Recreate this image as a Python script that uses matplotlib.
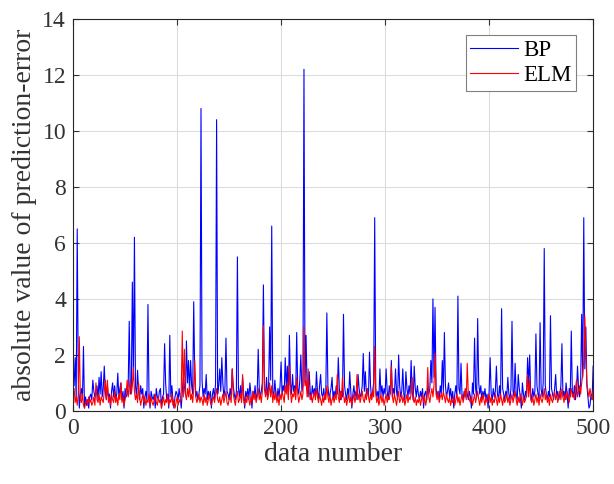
import numpy as np
import matplotlib
matplotlib.use("Agg")
import matplotlib.pyplot as plt

plt.rcParams['font.family'] = ['Liberation Serif', 'DejaVu Serif']

# absolute prediction error of the BP network, samples 1..500
bp_error = [
    0.9, 1.9, 0.4, 6.5, 1.2, 0.1, 0.6, 0.8, 0.4, 2.3, 0.1, 0.5, 0.2, 0.4, 0.1, 0.5, 0.6, 0.4, 1.1, 0.7,
    0.5, 0.6, 0.9, 0.4, 1.2, 0.6, 1.4, 0.5, 0.8, 1.6, 0.7, 0.4, 0.9, 0.5, 0.6, 0.1, 0.7, 1.0, 0.5, 0.9,
    0.4, 0.6, 1.35, 0.5, 0.8, 1.0, 0.4, 0.7, 0.1, 0.8, 0.5, 0.6, 0.9, 3.2, 0.6, 0.8, 4.6, 1.1, 6.2, 0.9,
    0.5, 1.45, 0.7, 0.4, 0.9, 0.6, 0.8, 0.1, 0.5, 0.7, 0.4, 3.8, 0.6, 0.1, 0.7, 0.5, 0.4, 0.6, 0.1, 0.8,
    0.5, 0.4, 0.7, 0.8, 0.1, 0.5, 0.6, 2.4, 1.0, 0.4, 0.6, 0.1, 2.7, 0.5, 0.9, 0.4, 0.1, 0.5, 0.7, 0.6,
    0.4, 0.8, 0.5, 0.1, 0.7, 1.2, 0.9, 0.6, 2.5, 1.0, 1.8, 0.7, 1.8, 0.9, 0.6, 3.9, 1.2, 0.5, 0.7, 0.4,
    0.6, 0.9, 10.8, 1.1, 0.5, 0.8, 0.6, 1.3, 0.4, 0.7, 0.5, 0.7, 0.1, 0.6, 0.8, 0.4, 1.0, 10.4, 0.6, 0.9,
    1.5, 0.7, 1.9, 1.0, 0.5, 0.8, 2.6, 0.7, 0.6, 0.4, 0.8, 0.5, 1.5, 0.9, 0.6, 0.4, 0.7, 5.5, 0.8, 0.5,
    0.9, 0.4, 1.2, 0.6, 0.1, 0.7, 0.5, 0.8, 0.4, 1.0, 0.6, 0.1, 0.7, 0.5, 0.9, 0.4, 0.6, 2.2, 0.8, 0.5,
    0.7, 1.0, 4.5, 0.8, 0.6, 1.2, 0.5, 0.9, 3.0, 1.1, 6.6, 0.7, 0.5, 1.1, 0.6, 0.4, 0.8, 0.5, 0.9, 1.75,
    0.6, 0.9, 0.7, 1.9, 0.8, 1.6, 0.5, 2.7, 1.0, 0.6, 1.3, 0.7, 0.9, 0.5, 2.8, 0.8, 0.6, 1.1, 2.0, 0.7,
    0.9, 12.2, 1.0, 2.7, 0.8, 0.5, 1.4, 0.7, 0.4, 0.9, 0.6, 0.8, 0.5, 1.4, 0.7, 0.4, 0.9, 1.3, 0.6, 0.5,
    0.8, 0.4, 0.7, 3.5, 0.9, 0.5, 0.6, 0.8, 1.2, 0.4, 0.7, 0.5, 0.9, 0.6, 1.9, 0.8, 0.4, 0.7, 0.5, 3.45,
    0.9, 0.6, 0.4, 0.8, 0.5, 1.4, 0.7, 0.1, 0.6, 0.9, 0.5, 0.7, 0.4, 1.3, 0.8, 0.5, 0.6, 0.9, 2.05, 0.7,
    1.4, 0.6, 0.8, 0.5, 2.1, 0.9, 0.4, 0.7, 1.0, 6.9, 0.8, 0.5, 0.7, 0.4, 1.5, 0.6, 0.9, 0.5, 0.8, 0.6,
    1.5, 0.7, 0.4, 0.9, 0.6, 1.8, 0.5, 0.8, 0.6, 1.5, 0.7, 0.4, 2.0, 0.9, 0.5, 0.7, 1.5, 0.6, 0.4, 1.4,
    0.8, 0.5, 0.9, 0.6, 1.8, 0.7, 0.4, 1.6, 0.8, 0.5, 0.9, 0.6, 0.4, 0.7, 0.5, 0.8, 0.1, 0.6, 0.7, 0.4,
    0.9, 0.6, 0.8, 1.8, 1.0, 4.0, 1.2, 3.7, 0.8, 0.5, 0.7, 0.4, 0.9, 0.6, 1.8, 0.7, 2.8, 0.9, 0.5, 0.7,
    1.0, 0.5, 0.8, 0.4, 0.7, 0.1, 0.6, 0.9, 0.5, 4.1, 0.8, 0.6, 1.7, 0.5, 0.4, 0.7, 0.5, 0.8, 0.6, 0.4,
    0.7, 0.5, 0.1, 1.0, 0.6, 2.6, 0.8, 0.5, 3.3, 1.0, 0.6, 0.9, 0.4, 0.7, 0.5, 0.8, 0.4, 0.6, 0.1, 0.7,
    1.9, 0.6, 0.4, 0.8, 0.5, 0.7, 1.6, 0.6, 0.4, 0.9, 0.5, 3.65, 0.8, 0.6, 0.4, 0.7, 0.5, 1.2, 0.6, 0.4,
    0.8, 3.2, 0.7, 0.5, 1.7, 0.6, 0.4, 1.3, 0.8, 0.5, 0.1, 1.0, 0.6, 0.4, 0.7, 0.5, 1.9, 0.9, 2.0, 0.6,
    0.4, 0.8, 0.5, 0.7, 2.75, 0.9, 0.6, 0.4, 3.15, 0.8, 0.5, 1.0, 5.8, 0.9, 0.6, 0.4, 0.7, 0.5, 3.4, 0.8,
    0.6, 0.4, 0.8, 1.3, 0.5, 0.7, 0.4, 0.6, 0.9, 2.4, 0.5, 0.7, 0.4, 1.0, 0.6, 0.1, 0.8, 0.5, 2.85, 0.7,
    0.5, 0.9, 0.4, 0.7, 1.6, 0.8, 0.5, 1.0, 3.45, 1.2, 6.9, 1.5, 3.0, 0.9, 0.5, 0.1, 0.2, 0.6, 0.4, 1.6,
]

# absolute prediction error of the ELM, samples 1..500
elm_error = [
    0.8, 0.3, 0.5, 0.2, 0.6, 2.65, 0.4, 0.3, 0.6, 0.2, 0.1, 0.3, 0.4, 0.2, 0.5, 0.3, 0.4, 0.2, 0.3, 0.5,
    0.2, 1.0, 0.4, 0.3, 0.6, 0.2, 0.5, 0.4, 0.3, 0.7, 1.1, 0.4, 1.1, 0.3, 0.5, 0.2, 0.6, 0.4, 0.3, 0.7,
    0.3, 0.5, 0.2, 0.6, 0.4, 1.0, 0.3, 0.5, 0.2, 0.4, 0.6, 1.1, 0.5, 0.8, 1.1, 0.6, 0.9, 1.55, 0.7, 0.4,
    0.6, 0.3, 1.0, 0.5, 0.2, 0.4, 0.6, 0.3, 0.5, 0.2, 0.4, 0.3, 0.6, 0.2, 0.5, 0.3, 0.2, 0.4, 0.6, 0.3,
    0.2, 0.5, 0.3, 0.4, 0.1, 0.3, 0.5, 0.2, 0.4, 0.3, 0.6, 0.2, 0.4, 0.3, 0.6, 0.2, 0.4, 0.1, 0.3, 0.5,
    0.2, 0.4, 0.3, 0.7, 2.85, 0.5, 2.2, 0.6, 0.4, 0.8, 0.5, 0.9, 0.4, 0.6, 0.3, 0.8, 1.8, 0.5, 0.3, 0.4,
    0.6, 0.3, 0.5, 0.4, 0.2, 0.6, 0.3, 0.5, 0.2, 0.4, 0.6, 0.3, 0.2, 0.4, 0.5, 0.3, 0.6, 0.8, 0.4, 0.3,
    0.5, 0.2, 0.4, 0.6, 0.3, 0.5, 0.7, 0.3, 0.2, 0.4, 0.5, 0.3, 1.5, 0.6, 0.4, 0.2, 0.5, 0.7, 0.3, 0.4,
    0.6, 0.3, 1.3, 0.4, 0.2, 0.5, 0.3, 0.6, 0.4, 0.2, 0.5, 0.3, 0.7, 0.4, 0.6, 0.3, 0.5, 0.8, 0.4, 0.6,
    0.3, 0.7, 3.05, 0.9, 0.5, 0.8, 0.4, 0.6, 1.0, 0.5, 0.9, 0.3, 0.6, 0.4, 0.7, 0.3, 0.5, 0.2, 0.6, 0.4,
    0.7, 0.5, 0.3, 0.9, 0.6, 1.0, 0.4, 1.6, 0.7, 0.3, 0.6, 0.5, 0.8, 0.4, 1.2, 0.6, 0.3, 0.5, 0.7, 0.4,
    0.6, 3.0, 0.9, 1.1, 0.5, 1.5, 0.7, 0.4, 0.6, 0.3, 0.5, 0.7, 0.4, 0.8, 0.5, 0.3, 0.6, 0.4, 0.2, 0.5,
    0.3, 0.6, 0.4, 0.9, 0.5, 0.3, 0.6, 0.2, 0.4, 0.5, 0.3, 0.6, 0.4, 1.3, 0.5, 0.3, 0.7, 0.4, 1.2, 0.6,
    0.3, 0.5, 0.2, 0.4, 0.6, 0.3, 0.5, 0.2, 0.4, 0.6, 0.3, 0.5, 1.3, 0.4, 0.6, 0.3, 0.5, 0.7, 0.4, 0.3,
    0.6, 0.4, 0.8, 0.5, 0.3, 0.6, 0.4, 0.7, 0.5, 2.3, 0.6, 0.3, 0.5, 0.2, 0.4, 0.6, 0.3, 0.5, 0.2, 0.4,
    0.6, 0.3, 0.5, 0.4, 0.7, 1.6, 0.5, 0.3, 0.6, 0.4, 0.2, 0.5, 0.7, 0.3, 0.4, 0.6, 0.3, 0.5, 0.2, 0.4,
    0.6, 0.3, 0.5, 0.4, 0.6, 1.2, 0.4, 0.3, 0.5, 0.2, 0.4, 0.3, 0.5, 0.2, 0.4, 0.6, 0.3, 0.5, 0.2, 0.4,
    1.55, 0.5, 0.3, 0.6, 0.8, 0.5, 0.9, 2.05, 0.6, 0.4, 0.7, 0.3, 0.5, 0.6, 0.4, 0.7, 0.5, 0.3, 0.6, 0.4,
    0.3, 0.5, 0.2, 0.4, 0.3, 0.5, 0.2, 0.4, 0.6, 0.3, 0.5, 0.2, 0.4, 0.6, 0.3, 0.5, 0.8, 0.4, 1.7, 0.6,
    0.4, 0.3, 0.5, 0.2, 0.4, 0.6, 0.3, 0.5, 0.7, 0.4, 0.2, 0.5, 0.3, 0.6, 0.4, 0.2, 0.5, 0.3, 0.4, 0.6,
    0.3, 0.5, 0.2, 0.4, 0.3, 0.6, 0.4, 0.2, 0.5, 0.3, 0.6, 0.4, 0.2, 0.5, 0.3, 0.4, 0.6, 0.3, 0.5, 0.2,
    0.4, 0.6, 0.3, 0.5, 0.7, 0.4, 0.2, 0.5, 0.3, 0.6, 0.4, 0.2, 0.5, 0.3, 0.4, 0.6, 1.3, 0.5, 1.1, 0.4,
    0.3, 0.5, 0.2, 0.4, 0.6, 0.3, 0.5, 0.2, 0.6, 0.4, 0.3, 0.5, 0.8, 0.4, 0.6, 0.3, 0.5, 0.2, 0.6, 0.4,
    0.3, 0.5, 0.7, 0.4, 0.6, 0.3, 0.5, 0.7, 0.4, 0.8, 0.5, 0.3, 0.6, 0.4, 0.7, 0.5, 0.3, 0.6, 0.8, 0.5,
    0.6, 0.4, 0.8, 1.1, 0.5, 0.7, 0.9, 0.6, 1.0, 1.3, 1.8, 3.4, 2.0, 1.0, 0.7, 0.5, 0.8, 0.6, 0.4, 0.7,
]

data_number = np.arange(1, len(bp_error) + 1)

fig = plt.figure(figsize=(6.14, 4.84), dpi=100)
ax = fig.add_axes([0.119, 0.151, 0.847, 0.810])

ax.plot(data_number, bp_error, color='#0000ff', linewidth=0.8, label='BP')
ax.plot(data_number, elm_error, color='#ff0000', linewidth=0.8, label='ELM')

ax.set_xlim(0, 500)
ax.set_ylim(0, 14)
ax.set_xticks([0, 100, 200, 300, 400, 500])
ax.set_yticks(range(0, 15, 2))
ax.grid(True, color='#dcdcdc', linewidth=0.8)
ax.set_axisbelow(True)

ax.tick_params(direction='in', top=True, right=True, labelsize=17, length=4,
               colors='#333333', pad=5)
for sp in ax.spines.values():
    sp.set_color('#262626')
    sp.set_linewidth(0.8)

ax.set_xlabel('data number', fontsize=20, color='#333333', labelpad=2)
ax.set_ylabel('absolute value of prediction-error', fontsize=20, color='#333333', labelpad=4)

leg = ax.legend(loc='upper right', bbox_to_anchor=(0.967, 0.959), borderaxespad=0,
                fontsize=16.5, fancybox=False, edgecolor='#808080', framealpha=1,
                handlelength=2.1, labelspacing=0.2, borderpad=0.2, handletextpad=0.2)
leg.get_frame().set_linewidth(0.8)

fig.savefig('out.png', dpi=100)
